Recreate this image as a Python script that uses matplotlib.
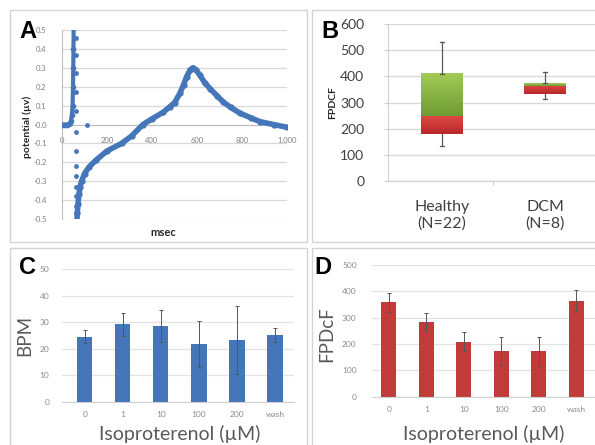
import numpy as np
import matplotlib
matplotlib.use('Agg')
import matplotlib.pyplot as plt
from matplotlib.patches import Rectangle
from matplotlib.colors import LinearSegmentedColormap

# ── Panel A: field potential trace (msec vs potential) ───────────────
t_up = [0, 8, 16, 24, 30, 36, 40, 44, 47, 49, 50, 51, 52]
v_up = [0.0, 0.0, 0.0, 0.0, 0.002, 0.008, 0.02, 0.05, 0.1, 0.2, 0.3, 0.4, 0.52]
t_sparse = [60, 60, 60, 60, 60, 64, 64, 64, 64, 64, 64, 64, 64, 112]
v_sparse = [0.46, 0.37, 0.27, 0.17, 0.07, -0.04, -0.14, -0.22, -0.27,
            -0.33, -0.38, -0.43, -0.47, 0.0]
t_rep = [66, 68, 71, 75, 80, 87, 100, 120, 150, 200, 265, 310, 360, 400,
         450, 480, 500, 524, 540, 554, 570, 582, 595, 613, 635, 658, 690,
         716, 750, 791, 840, 880, 940, 1000]
v_rep = [-0.52, -0.47, -0.42, -0.37, -0.33, -0.30, -0.26, -0.225, -0.19,
         -0.14, -0.10, -0.06, 0.0, 0.03, 0.065, 0.095, 0.115, 0.165, 0.21,
         0.253, 0.29, 0.30, 0.29, 0.26, 0.22, 0.19, 0.15, 0.12, 0.09, 0.06,
         0.035, 0.015, 0.0, -0.015]

# ── Panel B: FPDcF box summary ───────────────────────────────────────
groups = ['Healthy\n(N=22)', 'DCM\n(N=8)']
box_lo = [135, 313]
box_q1 = [180, 332]
box_med = [247, 363]
box_q3 = [410, 373]
box_hi = [530, 418]

# ── Panels C/D: isoproterenol dose response ──────────────────────────
doses = ['0', '1', '10', '100', '200', 'wash']
bpm = [24.5, 29.1, 28.6, 21.7, 23.2, 25.1]
bpm_err = [2.5, 4.2, 6.0, 8.7, 12.8, 2.5]
fpdcf = [358, 282, 209, 175, 172, 365]
fpdcf_err = [37, 34, 37, 53, 55, 41]

W, H = 595, 445
BLUE = '#4676ba'
RED = '#c23b3b'
GRID = '#d9d9d9'
TXT = '#595959'
FONT = 'Lato'

fig = plt.figure(figsize=(W / 100, H / 100), dpi=100)
fig.patch.set_facecolor('white')


def px_axes(x0, y0, x1, y1):
    return fig.add_axes([x0 / W, 1 - y1 / H, (x1 - x0) / W, (y1 - y0) / H])


def fig_text(x, y, s, **kw):
    fig.text(x / W, 1 - y / H, s, **kw)


def panel_box(x0, y0, x1, y1):
    fig.patches.append(Rectangle((x0 / W, 1 - y1 / H), (x1 - x0) / W,
                                 (y1 - y0) / H, transform=fig.transFigure,
                                 fill=False, edgecolor='#d4d4d4', lw=1.0))


panel_box(10, 10, 307, 242)
panel_box(312, 10, 600, 242)
panel_box(10, 248, 307, 455)
panel_box(312, 248, 600, 455)

# ======================================================================
#  A
# ======================================================================
axA = px_axes(62, 30, 287, 219)
axA.plot(t_up, v_up, color=BLUE, lw=3, marker='o', ms=3, zorder=3)
axA.plot(t_rep, v_rep, color=BLUE, lw=4, marker='o', ms=3.5, zorder=3)
axA.scatter(t_sparse, v_sparse, s=6, color=BLUE, zorder=3)
axA.set_xlim(0, 1000)
axA.set_ylim(-0.5, 0.5)
axA.set_yticks(np.arange(-0.5, 0.51, 0.1))
axA.set_yticklabels([f'{v:.1f}' for v in np.arange(-0.5, 0.51, 0.1)])
axA.set_xticks([0, 200, 400, 600, 800, 1000])
axA.set_xticklabels(['0', '200', '400', '600', '800', '1,000'])
axA.grid(axis='y', color=GRID, lw=0.9)
axA.set_axisbelow(True)
for s in ['top', 'right']:
    axA.spines[s].set_visible(False)
axA.spines['bottom'].set_position(('data', 0))
axA.spines['bottom'].set_color('#bfbfbf')
axA.spines['left'].set_color('#bfbfbf')
axA.tick_params(length=0, labelsize=5.5, labelcolor='#7f7f7f')
axA.tick_params(axis='y', pad=11)
axA.tick_params(axis='x', pad=9)
for lab in axA.get_xticklabels() + axA.get_yticklabels():
    lab.set_family(FONT)
fig_text(27, 127, 'potential (µv)', rotation=90, ha='center', va='center',
         fontsize=7.5, fontweight='bold', family=FONT, color='#262626')
fig_text(163, 232, 'msec', ha='center', va='center', fontsize=8,
         fontweight='bold', family=FONT, color='#262626')

# ======================================================================
#  B
# ======================================================================
axB = px_axes(388, 24, 597, 181)
green = LinearSegmentedColormap.from_list('g', ['#6f9c33', '#a2cb55'])
red = LinearSegmentedColormap.from_list('r', ['#b8282a', '#dc4842'])
grad = np.linspace(0, 1, 64).reshape(-1, 1)
bw = 0.4
for i in range(len(groups)):
    x0, x1 = i - bw / 2, i + bw / 2
    axB.imshow(grad, cmap=red, extent=(x0, x1, box_q1[i], box_med[i]),
               origin='lower', aspect='auto', zorder=2)
    axB.imshow(grad, cmap=green, extent=(x0, x1, box_med[i], box_q3[i]),
               origin='lower', aspect='auto', zorder=2)
    axB.plot([i, i], [box_q3[i], box_hi[i]], color='#595959', lw=0.9, zorder=3)
    axB.plot([i, i], [box_lo[i], box_q1[i]], color='#595959', lw=0.9, zorder=3)
    for yv in (box_lo[i], box_hi[i], box_q3[i]):
        axB.plot([i - 0.02, i + 0.02], [yv, yv], color='#595959', lw=0.9,
                 zorder=3)
axB.set_xlim(-0.524, 1.505)
axB.set_ylim(0, 600)
axB.set_yticks(range(0, 601, 100))
axB.grid(axis='y', color=GRID, lw=1)
axB.set_axisbelow(True)
axB.set_xticks([0, 1])
axB.set_xticklabels(groups)
axB.set_xticks([0.5], minor=True)
axB.tick_params(axis='x', which='major', length=0, pad=14)
axB.tick_params(axis='x', which='minor', length=3, color='#bfbfbf')
axB.tick_params(axis='y', length=3, color='#d0d0d0', pad=14)
axB.tick_params(labelsize=10, labelcolor='#404040')
axB.tick_params(axis='x', labelsize=11.5)
for s in ['top', 'right']:
    axB.spines[s].set_visible(False)
axB.spines['left'].set_color('#d0d0d0')
axB.spines['bottom'].set_color('#d0d0d0')
for lab in axB.get_xticklabels() + axB.get_yticklabels():
    lab.set_family(FONT)
fig_text(333, 103, 'FPDCF', rotation=90, ha='center', va='center',
         fontsize=7.5, fontweight='bold', family=FONT, color='#262626')

# ======================================================================
#  C and D
# ======================================================================
xpos = np.arange(len(doses))


def bar_panel(rect, vals, errs, color, ymax, step, xlim):
    ax = px_axes(*rect)
    ax.bar(xpos, vals, width=0.4, color=color, zorder=2,
           yerr=errs, error_kw=dict(ecolor='#555555', elinewidth=0.7,
                                    capsize=1.5, capthick=0.7, zorder=3))
    ax.set_xlim(*xlim)
    ax.set_ylim(0, ymax)
    ax.set_yticks(np.arange(0, ymax + 1, step))
    ax.set_xticks(xpos)
    ax.set_xticklabels(doses)
    ax.grid(axis='y', color='#e3e3e3', lw=0.9)
    ax.set_axisbelow(True)
    for s in ['top', 'right', 'left']:
        ax.spines[s].set_visible(False)
    ax.spines['bottom'].set_color('#d0d0d0')
    ax.tick_params(length=0, labelsize=6, labelcolor='#8c8c8c')
    ax.tick_params(axis='x', pad=7)
    for lab in ax.get_xticklabels() + ax.get_yticklabels():
        lab.set_family(FONT)
    return ax


axC = bar_panel((62, 269, 294, 401.7), bpm, bpm_err, BLUE, 50, 10,
                (-0.6, 5.5))
axC.tick_params(axis='y', pad=9)
axD = bar_panel((372, 265, 595, 396.7), fpdcf, fpdcf_err, RED, 500, 100,
                (-0.45, 5.5))
axD.tick_params(axis='y', pad=11)

fig_text(25, 335, 'BPM', rotation=90, ha='center', va='center',
         fontsize=13.5, family=FONT, color=TXT)
fig_text(327, 334, 'FPDcF', rotation=90, ha='center', va='center',
         fontsize=13.5, family=FONT, color=TXT)
fig_text(180, 434, 'Isoproterenol (µM)', ha='center', va='center',
         fontsize=14, family=FONT, color=TXT)
fig_text(484, 434, 'Isoproterenol (µM)', ha='center', va='center',
         fontsize=14, family=FONT, color=TXT)

# Panel letters
for x, y, s in [(28, 32, 'A'), (330, 32, 'B'), (27, 267, 'C'),
                (323, 267, 'D')]:
    fig_text(x, y, s, ha='center', va='center', fontsize=17,
             fontweight='bold', family='Liberation Sans', color='black')

fig.savefig('out.png', dpi=100, facecolor='white')
